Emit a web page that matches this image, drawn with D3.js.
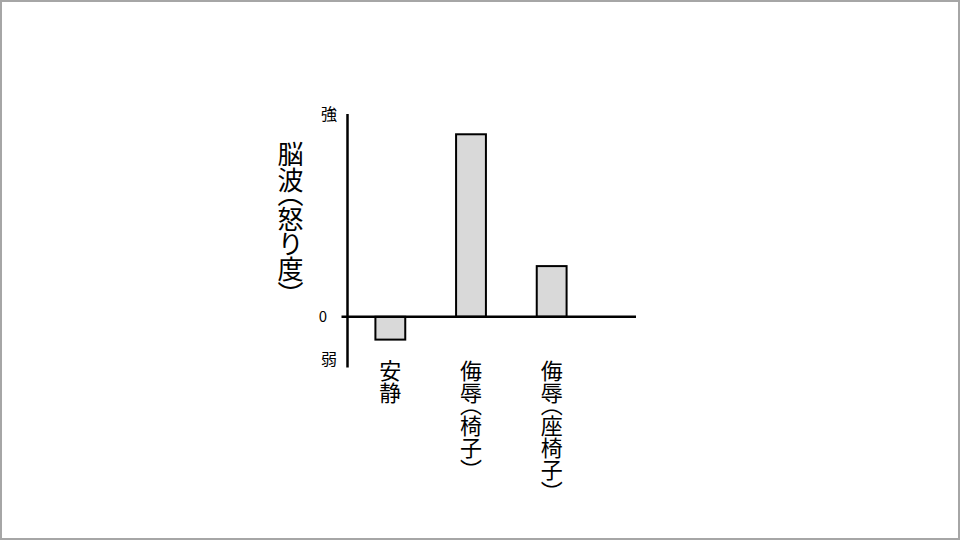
<!DOCTYPE html>
<html>
<head>
<meta charset="utf-8">
<script src="https://cdn.jsdelivr.net/npm/d3@7"></script>
<style>
  body { margin: 0; background: #fff; }
  #wrap { position: relative; width: 960px; height: 540px; }
  svg { display: block; position: absolute; left: 0; top: 0; }
  text { font-family: "Noto Sans CJK JP", sans-serif; fill: #000; }
  .vert {
    position: absolute;
    font-family: "Noto Sans CJK JP", sans-serif;
    color: #000;
    writing-mode: vertical-rl;
    text-orientation: mixed;
    font-feature-settings: "vpal" 1;
    line-height: 1;
    white-space: nowrap;
  }
</style>
</head>
<body>
<div id="wrap">
<svg id="chart" width="960" height="540"></svg>
</div>
<script>
const categories = ['安静', '侮辱（椅子）', '侮辱（座椅子）']
const values = [-0.9, 7.2, 2.0]
const tickValues = [8, 0, -1.7]
const tickLabels = ['強', '0', '弱']
const yTitle = '脳波（怒り度）'

const svg = d3.select('#chart')
const wrap = d3.select('#wrap')

// slide frame
svg.append('rect')
    .attr('x', 1).attr('y', 1)
    .attr('width', 958).attr('height', 538)
    .attr('fill', 'none')
    .attr('stroke', '#a6a6a6')
    .attr('stroke-width', 2)

const y = d3.scaleLinear()
    .domain([-2, 8])
    .range([367.5, 114])

const x = d3.scaleBand()
    .domain(categories)
    .range([350, 592])
    .paddingInner(0.63)
    .paddingOuter(0.315)

// bars
svg.selectAll('rect.bar')
    .data(values)
    .enter()
    .append('rect')
    .attr('class', 'bar')
    .attr('x', (d, i) => x(categories[i]))
    .attr('y', d => y(Math.max(0, d)))
    .attr('width', x.bandwidth())
    .attr('height', d => Math.abs(y(d) - y(0)))
    .attr('fill', '#d9d9d9')
    .attr('stroke', '#000')
    .attr('stroke-width', 2)

// axes
svg.append('line')
    .attr('x1', 347.5).attr('x2', 347.5)
    .attr('y1', y.range()[1]).attr('y2', y.range()[0])
    .attr('stroke', '#000')
    .attr('stroke-width', 2.5)

svg.append('line')
    .attr('x1', 341.5).attr('x2', 636)
    .attr('y1', y(0)).attr('y2', y(0))
    .attr('stroke', '#000')
    .attr('stroke-width', 2.5)

// tick labels
svg.selectAll('text.tick')
    .data(tickValues)
    .enter()
    .append('text')
    .attr('class', 'tick')
    .attr('x', (d, i) => i === 1 ? 323 : 329)
    .attr('y', d => y(d))
    .attr('dy', '0.35em')
    .attr('text-anchor', 'middle')
    .style('font-size', (d, i) => i === 1 ? '15px' : '16px')
    .text((d, i) => tickLabels[i])

// category labels, written vertically (html handles the vertical brackets)
const catSize = 22
wrap.selectAll('div.cat')
    .data(categories)
    .enter()
    .append('div')
    .attr('class', 'cat vert')
    .style('font-size', catSize + 'px')
    .style('width', catSize + 'px')
    .style('left', d => (x(d) + x.bandwidth() / 2 - catSize / 2) + 'px')
    .style('top', '360px')
    .text(d => d)

// y title
const titleSize = 26
wrap.append('div')
    .attr('class', 'vert')
    .style('font-size', titleSize + 'px')
    .style('width', titleSize + 'px')
    .style('left', (290 - titleSize / 2) + 'px')
    .style('top', '141px')
    .text(yTitle)
</script>
</body>
</html>
